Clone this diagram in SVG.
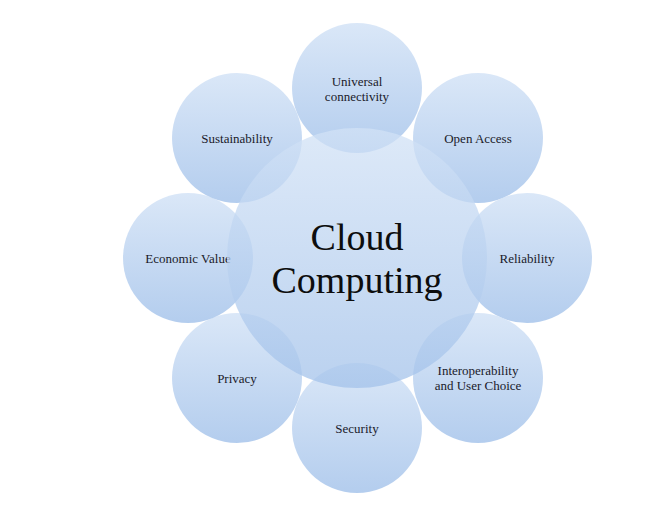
<svg xmlns="http://www.w3.org/2000/svg" width="659" height="511" viewBox="0 0 659 511">
  <style>
    .bubble { fill: url(#blueFill); fill-opacity: 0.82; }
    .hub { fill: url(#blueFill); fill-opacity: 0.75; }
    .label { font-family: "Liberation Serif", "DejaVu Serif", serif; font-size: 13px; fill: #1a1a2a; text-anchor: middle; }
    .title { font-family: "Liberation Serif", "DejaVu Serif", serif; font-size: 38px; fill: #0d0d0d; text-anchor: middle; }
  </style>
  <defs>
    <linearGradient id="blueFill" x1="0" y1="0" x2="0" y2="1">
      <stop offset="0" stop-color="#d2e2f6"/>
      <stop offset="1" stop-color="#a3c2ea"/>
    </linearGradient>
  </defs>
  <rect width="659" height="511" fill="#ffffff"/>

  <!-- outer concepts -->
  <g id="node-universal"><circle class="bubble" cx="357" cy="88" r="65"/>
    <text class="label" x="357" y="86">Universal</text><text class="label" x="357" y="101">connectivity</text></g>
  <g id="node-open-access"><circle class="bubble" cx="478" cy="138" r="65"/>
    <text class="label" x="478" y="143">Open Access</text></g>
  <g id="node-reliability"><circle class="bubble" cx="527" cy="258" r="65"/>
    <text class="label" x="527" y="263">Reliability</text></g>
  <g id="node-interoperability"><circle class="bubble" cx="478" cy="378" r="65"/>
    <text class="label" x="478" y="375">Interoperability</text><text class="label" x="478" y="390">and User Choice</text></g>
  <g id="node-security"><circle class="bubble" cx="357" cy="428" r="65"/>
    <text class="label" x="357" y="433">Security</text></g>
  <g id="node-privacy"><circle class="bubble" cx="237" cy="378" r="65"/>
    <text class="label" x="237" y="383">Privacy</text></g>
  <g id="node-economic"><circle class="bubble" cx="188" cy="258" r="65"/>
    <text class="label" x="188" y="263">Economic Value</text></g>
  <g id="node-sustainability"><circle class="bubble" cx="237" cy="138" r="65"/>
    <text class="label" x="237" y="143">Sustainability</text></g>

  <!-- central hub -->
  <g id="node-cloud"><circle class="hub" cx="357" cy="258" r="130"/>
    <text class="title" x="357" y="250">Cloud</text>
    <text class="title" x="357" y="293">Computing</text></g>

  <g id="connectors"></g>
</svg>
